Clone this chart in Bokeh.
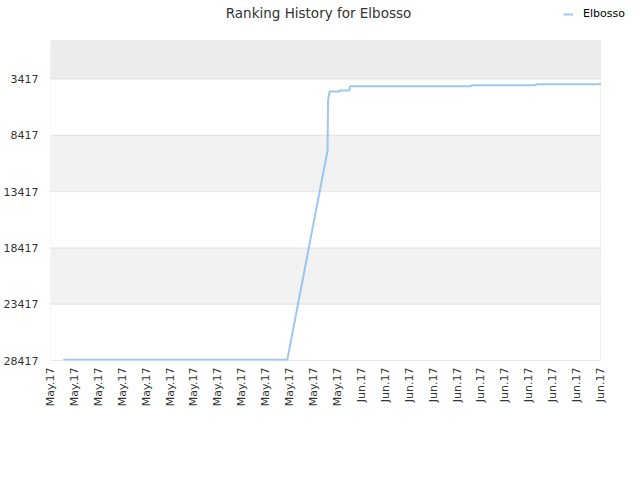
import numpy as np
import pandas as pd
from bokeh.plotting import figure
from bokeh.models import Range1d, FixedTicker, BoxAnnotation, Legend, LegendItem, Label
from bokeh.embed import file_html
from bokeh.resources import INLINE

# ---- data ----
title_text = "Ranking History for Elbosso"
series_name = "Elbosso"
dates = [
    "2017-05-09 01:00", "2017-05-27 09:00", "2017-05-30 16:00", "2017-05-30 17:00",
    "2017-05-30 20:00", "2017-05-31 15:00", "2017-05-31 16:00", "2017-06-01 11:00",
    "2017-06-01 12:00", "2017-06-11 10:00", "2017-06-11 11:00", "2017-06-16 17:00",
    "2017-06-16 18:00", "2017-06-21 22:00", "2017-06-22 00:00",
]
ranks = [
    28350, 28350, 9770, 5330,
    4530, 4530, 4440, 4440,
    4060, 4060, 3970, 3970,
    3880, 3880, 3760,
]
y_ticks = [3417, 8417, 13417, 18417, 23417, 28417]
x_tick_labels = ["May.17"] * 13 + ["Jun.17"] * 11
x_start, x_end = "2017-05-08 00:00", "2017-06-22 00:00"
y_top, y_bottom = 0, 28417
band_edges = [0, 3417, 8417, 13417, 18417, 23417, 28417]
band_colors = ["#ececec", "#ffffff", "#f2f2f2", "#ffffff", "#f2f2f2", "#ffffff"]

FONT = "DejaVu Sans"
# layout (px): plot area 550x320 at left 50 / top 40; frame extended with a
# 40 px header strip on top and a 32 px strip on the right for title & legend
PLOT_W, PLOT_H = 550, 320
HEADER_H, RIGHT_W = 40, 32
FRAME_W, FRAME_H = PLOT_W + RIGHT_W, PLOT_H + HEADER_H

xs_ms = int(pd.Timestamp(x_start).value // 10**6)
xe_ms = int(pd.Timestamp(x_end).value // 10**6)
x_ext = (xe_ms - xs_ms) * RIGHT_W / PLOT_W
y_ext = (y_bottom - y_top) * HEADER_H / PLOT_H
x = pd.to_datetime(dates)

p = figure(
    frame_width=FRAME_W, frame_height=FRAME_H,
    x_axis_type="datetime",
    output_backend="svg", toolbar_location=None,
    title_location=None,
    min_border_left=50, min_border_top=0, min_border_right=0, min_border_bottom=10,
    x_range=Range1d(xs_ms, xe_ms + x_ext),
    y_range=Range1d(y_bottom, y_top - y_ext),
)
p.background_fill_color = "#ffffff"
p.border_fill_color = "#ffffff"
p.outline_line_color = None

# alternating bands
for i, c in enumerate(band_colors):
    p.add_layout(BoxAnnotation(left=xs_ms, right=xe_ms,
                               bottom=band_edges[i], top=band_edges[i + 1],
                               fill_color=c, fill_alpha=1.0, line_color=None,
                               level="underlay"))
# grid lines and plot border (band outlines drawn on top of all fills)
for i in range(len(band_colors)):
    p.add_layout(BoxAnnotation(left=xs_ms, right=xe_ms,
                               bottom=band_edges[i], top=band_edges[i + 1],
                               fill_alpha=0.0, line_color="#cfcfcf", line_width=1,
                               level="underlay"))
# x axis line
p.add_layout(BoxAnnotation(left=xs_ms, right=xe_ms, bottom=y_bottom, top=y_bottom,
                           fill_alpha=0.0, line_color="#bbbbbb", line_width=1,
                           level="underlay"))

r = p.line(x, ranks, line_color="#7cb5ec", line_width=2, line_alpha=0.75)

# title
p.add_layout(Label(x=268, y=FRAME_H - 12, x_units="screen", y_units="screen",
                   text=title_text, text_align="center", text_baseline="middle",
                   text_font=FONT, text_font_size="13.5px", text_color="#333333"))

# y axis
p.yaxis.ticker = FixedTicker(ticks=y_ticks)
p.yaxis.axis_line_color = None
p.yaxis.major_tick_line_color = None
p.yaxis.minor_tick_line_color = None
p.yaxis.major_tick_out = 0
p.yaxis.major_tick_in = 0
p.yaxis.major_label_text_font = FONT
p.yaxis.major_label_text_font_size = "11px"
p.yaxis.major_label_text_color = "#333333"
p.yaxis.major_label_standoff = 12
p.grid.grid_line_color = None

# x axis
x_ticks = [int(round(v)) for v in np.linspace(xs_ms, xe_ms, len(x_tick_labels))]
p.xaxis.ticker = FixedTicker(ticks=x_ticks)
p.xaxis.major_label_overrides = {t: lab for t, lab in zip(x_ticks, x_tick_labels)}
p.xaxis.major_label_orientation = np.pi / 2
p.xaxis.axis_line_color = None
p.xaxis.major_tick_line_color = None
p.xaxis.minor_tick_line_color = None
p.xaxis.major_tick_out = 0
p.xaxis.major_tick_in = 0
p.xaxis.major_label_text_font = FONT
p.xaxis.major_label_text_font_size = "11px"
p.xaxis.major_label_text_color = "#333333"
p.xaxis.major_label_standoff = 7

legend = Legend(items=[LegendItem(label=series_name, renderers=[r])],
                location=(513, FRAME_H - 20), orientation="horizontal",
                border_line_color=None, background_fill_alpha=0.0,
                padding=0, margin=0, glyph_width=10, glyph_height=12,
                label_standoff=10, label_height=12,
                label_text_font=FONT, label_text_font_size="11px",
                label_text_color="#000000")
p.add_layout(legend)

open("out.html", "w").write(file_html(p, INLINE))
